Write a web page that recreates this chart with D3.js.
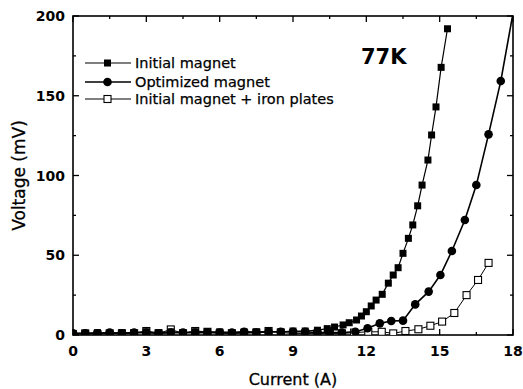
<!DOCTYPE html>
<html>
<head>
<meta charset="utf-8">
<script src="https://cdn.jsdelivr.net/npm/d3@7"></script>
<style>
  body { margin: 0; background: #fff; }
  text { font-family: "DejaVu Sans", sans-serif; fill: #000; }
</style>
</head>
<body>
<div id="chart"></div>
<script>
// Data: [current (A), voltage (mV)]
const initialMagnet = [
    [0, 1], [0.5, 1], [1, 1.5], [1.5, 1], [2, 1.5], [2.5, 1.5], [3, 2], [3.5, 1.5],
    [4, 2], [4.5, 1.5], [5, 2], [5.5, 2], [6, 2], [6.5, 1.5], [7, 2], [7.5, 2],
    [8, 2], [8.5, 2], [9, 2.5], [9.5, 2.5], [10, 3], [10.4, 4], [10.7, 5],
    [11.05, 6.3], [11.3, 7.7], [11.6, 9.4], [11.8, 11.9], [12.0, 14.6], [12.2, 18.2],
    [12.4, 21.9], [12.65, 25.5], [12.9, 32.5], [13.1, 37.6], [13.3, 42.2], [13.5, 51.2],
    [13.72, 60.6], [13.9, 69], [14.1, 81], [14.28, 94], [14.52, 109.7], [14.67, 125.4],
    [14.85, 143], [15.06, 167.8], [15.32, 192]
];
const optimizedMagnet = [
    [0, 1], [0.5, 1], [1, 1], [1.5, 1.5], [2, 1], [2.5, 1.5], [3, 1.5], [3.5, 1],
    [4, 1.5], [4.5, 1.5], [5, 1.5], [5.5, 1.5], [6, 1.5], [6.5, 1.5], [7, 2],
    [7.5, 1.5], [8, 2], [8.5, 2], [9, 2], [9.5, 2], [10, 1.5], [10.5, 1.5], [11, 1.5],
    [11.55, 2], [12.05, 4.2], [12.55, 7.3], [13.02, 8.8], [13.5, 9], [14.0, 19.2],
    [14.55, 27.2], [15.03, 37.6], [15.5, 52.7], [16.03, 72.1], [16.5, 94], [17.0, 125.8],
    [17.5, 159.2], [18.05, 206]
];
const ironPlates = [
    [0, 0.5], [0.5, 1], [1, 0.5], [1.5, 1], [2, 1], [2.5, 1], [3, 2.5], [3.5, 1],
    [4, 3.5], [4.5, 1], [5, 2.5], [5.5, 2], [6, 1], [6.5, 1], [7, 1], [7.5, 1.5],
    [8, 2.5], [8.5, 1.5], [9, 1], [9.5, 1], [10, 1], [10.5, 1], [11, 1], [11.5, 1.5],
    [12.08, 2], [12.63, 2], [13.1, 1], [13.6, 2.5], [14.13, 3.6], [14.62, 5.8],
    [15.1, 8.4], [15.6, 13.8], [16.1, 25], [16.57, 34.5], [17.0, 45.2]
];
const xTicks = [0, 3, 6, 9, 12, 15, 18];
const yTicks = [0, 50, 100, 150, 200];
const seriesNames = ["Initial magnet", "Optimized magnet", "Initial magnet + iron plates"];

let width = 523, height = 389;
let margin = { top: 16, right: 10, bottom: 54, left: 73 };

let svg = d3.select('#chart')
    .append('svg')
    .attr('width', width)
    .attr('height', height);

const xScale = d3.scaleLinear()
    .domain([0, 18])
    .range([margin.left, width - margin.right]);

const yScale = d3.scaleLinear()
    .domain([0, 200])
    .range([height - margin.bottom, margin.top]);

const x0 = margin.left, x1 = width - margin.right;
const y0 = height - margin.bottom, y1 = margin.top;

// clip for the data
svg.append('clipPath').attr('id', 'clip')
    .append('rect')
    .attr('x', x0).attr('y', y1)
    .attr('width', x1 - x0).attr('height', y0 - y1);

// frame
svg.append('rect')
    .attr('x', x0).attr('y', y1)
    .attr('width', x1 - x0).attr('height', y0 - y1)
    .attr('fill', 'none')
    .attr('stroke', '#000')
    .attr('stroke-width', 1.6);

// inward ticks on all four sides
const xMinor = d3.range(0, 18.01, 1.5);
const yMinor = d3.range(0, 200.1, 25);
const tickG = svg.append('g').attr('stroke', '#000').attr('stroke-width', 1.3);
xMinor.forEach(v => {
    let len = xTicks.includes(v) ? 6 : 3;
    tickG.append('line').attr('x1', xScale(v)).attr('x2', xScale(v)).attr('y1', y0).attr('y2', y0 - len);
    tickG.append('line').attr('x1', xScale(v)).attr('x2', xScale(v)).attr('y1', y1).attr('y2', y1 + len);
});
yMinor.forEach(v => {
    let len = yTicks.includes(v) ? 6 : 3;
    tickG.append('line').attr('x1', x0).attr('x2', x0 + len).attr('y1', yScale(v)).attr('y2', yScale(v));
    tickG.append('line').attr('x1', x1).attr('x2', x1 - len).attr('y1', yScale(v)).attr('y2', yScale(v));
});

// tick labels
svg.selectAll('.xlab')
    .data(xTicks)
    .enter()
    .append('text')
    .attr('x', d => xScale(d))
    .attr('y', y0 + 21)
    .attr('text-anchor', 'middle')
    .style('font-size', '14px')
    .style('font-weight', 'bold')
    .text(d => d);

svg.selectAll('.ylab')
    .data(yTicks)
    .enter()
    .append('text')
    .attr('x', x0 - 8)
    .attr('y', d => yScale(d) + 5)
    .attr('text-anchor', 'end')
    .style('font-size', '14px')
    .style('font-weight', 'bold')
    .text(d => d);

// axis titles
svg.append('text')
    .attr('x', (x0 + x1) / 2)
    .attr('y', height - 4)
    .attr('text-anchor', 'middle')
    .style('font-size', '16px')
    .attr('stroke', '#000').attr('stroke-width', 0.3)
    .text('Current (A)');

svg.append('text')
    .attr('transform', `translate(25,${(y0 + y1) / 2}) rotate(-90)`)
    .attr('text-anchor', 'middle')
    .style('font-size', '17px')
    .attr('stroke', '#000').attr('stroke-width', 0.3)
    .text('Voltage (mV)');

// lines
let line = d3.line()
    .x(d => xScale(d[0]))
    .y(d => yScale(d[1]));

const plot = svg.append('g').attr('clip-path', 'url(#clip)');

plot.append('path').datum(initialMagnet)
    .attr('d', line).attr('fill', 'none').attr('stroke', '#000').attr('stroke-width', 1.2);
plot.append('path').datum(optimizedMagnet)
    .attr('d', line).attr('fill', 'none').attr('stroke', '#000').attr('stroke-width', 1.6);
plot.append('path').datum(ironPlates)
    .attr('d', line).attr('fill', 'none').attr('stroke', '#000').attr('stroke-width', 1);

// markers
plot.selectAll('.sq')
    .data(ironPlates)
    .enter()
    .append('rect')
    .attr('x', d => xScale(d[0]) - 3.5)
    .attr('y', d => yScale(d[1]) - 3.5)
    .attr('width', 7).attr('height', 7)
    .attr('fill', '#fff').attr('stroke', '#000').attr('stroke-width', 1.1);

plot.selectAll('.circ')
    .data(optimizedMagnet)
    .enter()
    .append('circle')
    .attr('cx', d => xScale(d[0]))
    .attr('cy', d => yScale(d[1]))
    .attr('r', 4.3)
    .attr('fill', '#000');

plot.selectAll('.fsq')
    .data(initialMagnet)
    .enter()
    .append('rect')
    .attr('x', d => xScale(d[0]) - 3.5)
    .attr('y', d => yScale(d[1]) - 3.5)
    .attr('width', 7).attr('height', 7)
    .attr('fill', '#000');

// legend
const legend = svg.append('g');
const legendY = [63, 82, 99];
seriesNames.forEach((name, i) => {
    let y = legendY[i];
    legend.append('line')
        .attr('x1', 85).attr('x2', 131).attr('y1', y).attr('y2', y)
        .attr('stroke', '#000').attr('stroke-width', i === 1 ? 1.6 : 1.1);
    if (i === 0) {
        legend.append('rect').attr('x', 104).attr('y', y - 3.5).attr('width', 7).attr('height', 7).attr('fill', '#000');
    } else if (i === 1) {
        legend.append('circle').attr('cx', 107.5).attr('cy', y).attr('r', 4.3).attr('fill', '#000');
    } else {
        legend.append('rect').attr('x', 104).attr('y', y - 3.5).attr('width', 7).attr('height', 7)
            .attr('fill', '#fff').attr('stroke', '#000').attr('stroke-width', 1.1);
    }
    legend.append('text')
        .attr('x', 135).attr('y', y + 5)
        .style('font-size', '14.5px')
        .attr('stroke', '#000').attr('stroke-width', 0.25)
        .text(name);
});

svg.append('text')
    .attr('x', 361).attr('y', 64)
    .style('font-size', '21px')
    .style('font-weight', 'bold')
    .text('77K');
</script>
</body>
</html>
